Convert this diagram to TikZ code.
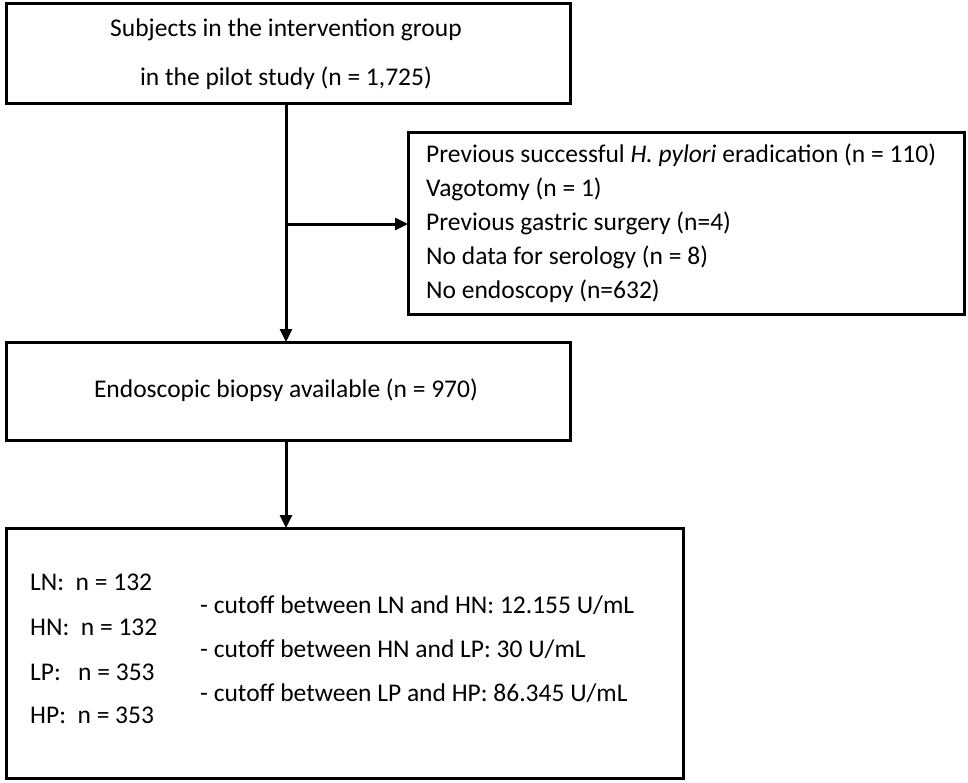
\documentclass[tikz,border=0pt]{standalone}
\usepackage{fontspec}
\setmainfont{Carlito}
\usetikzlibrary{arrows.meta}
\begin{document}
\begin{tikzpicture}[x=1pt,y=-1pt,
 box/.style={draw,line width=3pt},
 txt/.style={font=\fontsize{25.5}{28}\selectfont,inner sep=0pt},
 arr/.style={line width=3pt,-{Triangle[length=13pt,width=12pt]}}]
\useasboundingbox (0,0) rectangle (968,782);
\draw[box] (6,3) rectangle (570,103);
\node[txt] (t1a) at (286,30) {Subjects in the intervention group};
\node[txt] (t1b) at (286,78) {in the pilot study (n = 1,725)};
\draw[box] (408,132) rectangle (964,314);
\coordinate (b2w) at (408,224);
\foreach \y/\t in {155/{Previous successful \textit{H. pylori} eradication (n = 110)},189/{Vagotomy (n = 1)},223/{Previous gastric surgery (n=4)},257/{No data for serology (n = 8)},291/{No endoscopy (n=632)}}
 \node[txt,anchor=west] at (426,\y) {\t};
\draw[box] (6,342) rectangle (570,440);
\node[txt] (t3) at (286,390) {Endoscopic biopsy available (n = 970)};
\draw[box] (6,528) rectangle (683,778);
\foreach \y/\t in {582/{LN:\ \ n = 132},627/{HN:\ \ n = 132},672/{LP:\ \ \ n = 353},715/{HP:\ \ n = 353}}
 \node[txt,anchor=west] at (30,\y) {\t};
\node[txt,anchor=west] at (200,605) {- cutoff between LN and HN: 12.155 U/mL};
\node[txt,anchor=west] at (200,649) {- cutoff between HN and LP: 30 U/mL};
\node[txt,anchor=west] at (200,693) {- cutoff between LP and HP: 86.345 U/mL};
\coordinate (a1) at (286,103);
\coordinate (a2) at (286,342);
\coordinate (br) at (286,224);
\draw[arr] (a1) -- (a2);
\draw[arr] (br) -- (b2w);
\draw[arr] (286,440) -- (286,528);
\end{tikzpicture}
\end{document}
